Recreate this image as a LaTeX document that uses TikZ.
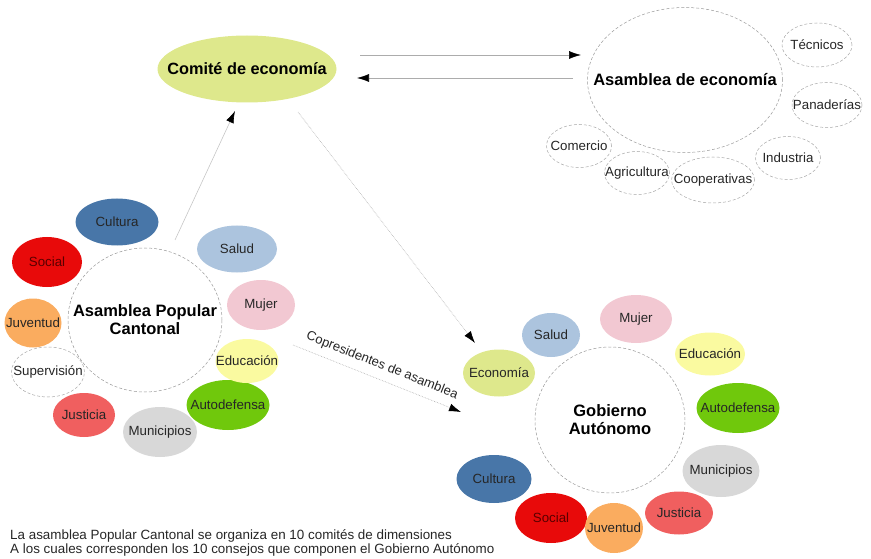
\documentclass[tikz,border=0pt]{standalone}
\usepackage{fontspec}
\setmainfont{Liberation Sans}
\usetikzlibrary{shapes.geometric,arrows.meta}
\definecolor{cEco}{RGB}{222,232,140}
\definecolor{cCul}{RGB}{72,118,168}
\definecolor{cSoc}{RGB}{232,10,10}
\definecolor{cJuv}{RGB}{250,172,95}
\definecolor{cJus}{RGB}{240,95,95}
\definecolor{cMun}{RGB}{216,216,216}
\definecolor{cAut}{RGB}{112,200,12}
\definecolor{cEdu}{RGB}{250,250,160}
\definecolor{cMuj}{RGB}{242,200,210}
\definecolor{cSal}{RGB}{172,196,222}
\definecolor{dred}{RGB}{90,0,0}
\tikzset{
  sat/.style={ellipse, inner sep=0pt, label={[font=\fontsize{13.3}{15}\selectfont, text=black!85]center:#1}},
  dsat/.style={sat=#1, draw=gray!70, densely dashed, line width=0.5pt},
  rsat/.style={ellipse, inner sep=0pt, label={[font=\fontsize{13.3}{15}\selectfont, text=dred]center:#1}},
  big/.style={ellipse, inner sep=0pt, draw=gray!80, densely dashed, line width=0.5pt, fill=white,
     label={[font=\bfseries\fontsize{16.5}{18}\selectfont, align=center]center:#1}},
  arr/.style={draw=gray!65, line width=0.6pt, -{Latex[length=12pt,width=8pt,color=black]}},
  darr/.style={arr, densely dotted},
}
\begin{document}
\begin{tikzpicture}[x=1pt,y=-1pt]
\useasboundingbox (0,0) rectangle (871,559);
% top
\node[ellipse, inner sep=0pt, fill=cEco, minimum width=179pt, minimum height=67pt,
  label={[font=\bfseries\fontsize{16.3}{18}\selectfont]center:Comité de economía}] (com) at (247,69) {};
\node[big={Asamblea de economía}, minimum width=195pt, minimum height=145pt] (ae) at (685,80) {};
\node[dsat=Técnicos, minimum width=70pt, minimum height=44pt] (tec) at (817,45) {};
\node[dsat=Panaderías, minimum width=70pt, minimum height=45pt] (pan) at (827,105) {};
\node[dsat=Industria, minimum width=65pt, minimum height=43pt] (ind) at (788,158) {};
\node[dsat=Cooperativas, minimum width=83pt, minimum height=46pt] (coo) at (713,180) {};
\node[dsat=Agricultura, minimum width=65pt, minimum height=43pt] (agr) at (637,173) {};
\node[dsat=Comercio, minimum width=65pt, minimum height=43pt] (come) at (579,146) {};
% left
\node[big={Asamblea Popular\\Cantonal}, minimum width=154pt, minimum height=144pt] (apc) at (145,320) {};
\node[sat=Cultura, fill=cCul, minimum width=83pt, minimum height=47pt] (lcul) at (117,222) {};
\node[rsat=Social, fill=cSoc, minimum width=70pt, minimum height=50pt] (lsoc) at (47,262) {};
\node[sat=Juventud, fill=cJuv, minimum width=57pt, minimum height=49pt] (ljuv) at (33,323) {};
\node[dsat=Supervisión, fill=white, minimum width=73pt, minimum height=50pt] (lsup) at (48,372) {};
\node[sat=Justicia, fill=cJus, minimum width=62pt, minimum height=44pt] (ljus) at (84,415) {};
\node[sat=Municipios, fill=cMun, minimum width=74pt, minimum height=50pt] (lmun) at (160,432) {};
\node[sat=Autodefensa, fill=cAut, minimum width=83pt, minimum height=50pt] (laut) at (228,405) {};
\node[sat=Educación, fill=cEdu, minimum width=63pt, minimum height=44pt] (ledu) at (247,361) {};
\node[sat=Mujer, fill=cMuj, minimum width=68pt, minimum height=50pt] (lmuj) at (261,305) {};
\node[sat=Salud, fill=cSal, minimum width=80pt, minimum height=47pt] (lsal) at (237,249) {};
% right
\node[big={Gobierno\\Autónomo}, minimum width=150pt, minimum height=146pt] (gob) at (610,420) {};
\node[sat=Economía, fill=cEco, minimum width=72pt, minimum height=47pt] (reco) at (499,373) {};
\node[sat=Salud, fill=cSal, minimum width=58pt, minimum height=44pt] (rsal) at (551,335) {};
\node[sat=Mujer, fill=cMuj, minimum width=72pt, minimum height=48pt] (rmuj) at (636,319) {};
\node[sat=Educación, fill=cEdu, minimum width=70pt, minimum height=43pt] (redu) at (710,354) {};
\node[sat=Autodefensa, fill=cAut, minimum width=83pt, minimum height=50pt] (raut) at (738,408) {};
\node[sat=Municipios, fill=cMun, minimum width=77pt, minimum height=52pt] (rmun) at (721,471) {};
\node[sat=Justicia, fill=cJus, minimum width=68pt, minimum height=43pt] (rjus) at (679,513) {};
\node[rsat=Social, fill=cSoc, minimum width=72pt, minimum height=50pt] (rsoc) at (551,518) {};
\node[sat=Juventud, fill=cJuv, minimum width=58pt, minimum height=50pt] (rjuv) at (614,528) {};
\node[sat=Cultura, fill=cCul, minimum width=75pt, minimum height=48pt] (rcul) at (494,479) {};
% connectors
\coordinate (c1s) at (360,55);
\coordinate (c1e) at (581,55);
\coordinate (c2s) at (573,78);
\coordinate (c2e) at (357,78);
\coordinate (c3s) at (175,240);
\coordinate (c3e) at (235,111);
\coordinate (c4s) at (298,112);
\coordinate (c4e) at (475,343);
\coordinate (c5s) at (293,345);
\coordinate (c5e) at (461,412);
\draw[arr] (c1s) -- (c1e);
\draw[arr] (c2s) -- (c2e);
\draw[arr, draw=gray!45] (c3s) -- (c3e);
\draw[darr] (c4s) -- (c4e);
\draw[darr] (c5s) -- (c5e) node[pos=0.5, sloped, above=4pt, font=\fontsize{13}{15}\selectfont, text=black!85] (lbl) {Copresidentes de asamblea};
% caption
\node[anchor=west, align=left, inner sep=0pt, font=\fontsize{13.4}{13.4}\selectfont, text=black!85] (cap) at (10,543)
 {La asamblea Popular Cantonal se organiza en 10 comités de dimensiones\\A los cuales corresponden los 10 consejos que componen el Gobierno Autónomo};
\end{tikzpicture}
\end{document}
